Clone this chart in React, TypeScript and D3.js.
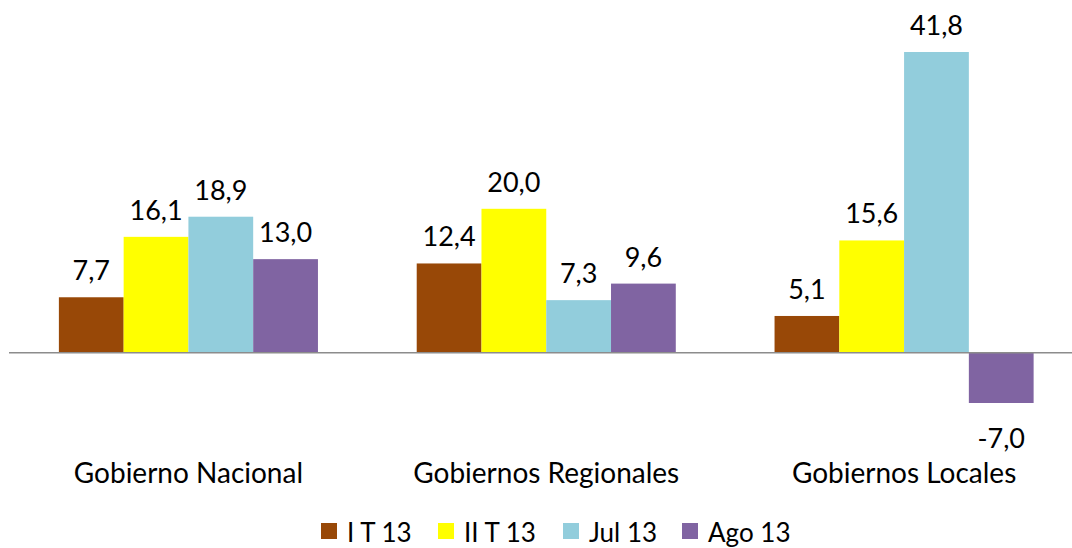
import React from 'react';
import * as d3 from 'd3';

const categories = ['Gobierno Nacional', 'Gobiernos Regionales', 'Gobiernos Locales'];
const seriesNames = ['I T 13', 'II T 13', 'Jul 13', 'Ago 13'];
const seriesColors = ['#984807', '#FFFF00', '#92CDDC', '#8064A2'];
const iT13 = [7.7, 12.4, 5.1];
const iiT13 = [16.1, 20.0, 15.6];
const jul13 = [18.9, 7.3, 41.8];
const ago13 = [13.0, 9.6, -7.0];

const values = [iT13, iiT13, jul13, ago13];

const W = 1072;
const H = 548;
const font = 'Lato, Carlito, Calibri, sans-serif';

const fmt = (v: number) => v.toFixed(1).replace('.', ',');

export default function App() {
  const x0 = d3.scaleBand<string>()
    .domain(categories)
    .range([9.5, 1083])
    .paddingInner(0.276)
    .paddingOuter(0.138);

  const x1 = d3.scaleBand<string>()
    .domain(seriesNames)
    .range([0, x0.bandwidth()]);

  const y = d3.scaleLinear()
    .domain([-7, 41.8])
    .range([403, 52]);

  const legendX = [321, 438, 563, 682];

  return (
    <svg width={W} height={H} style={{ position: 'absolute', left: 0, top: 0, background: '#fff' }}>
      {seriesNames.map((s, si) => (
        <g key={s} fill={seriesColors[si]}>
          {categories.map((c, ci) => {
            const v = values[si][ci];
            const bx = (x0(c) as number) + (x1(s) as number);
            const top = y(Math.max(0, v));
            const h = Math.abs(y(v) - y(0));
            return (
              <rect key={c} x={bx} y={top} width={x1.bandwidth()} height={h} />
            );
          })}
        </g>
      ))}
      <line x1={9} x2={W} y1={y(0)} y2={y(0)} stroke="#8c8c8c" strokeWidth={1.5} />
      {seriesNames.map((s, si) =>
        categories.map((c, ci) => {
          const v = values[si][ci];
          const cx = (x0(c) as number) + (x1(s) as number) + x1.bandwidth() / 2;
          const ty = v >= 0 ? y(v) - 17 : y(v) + 45;
          return (
            <text key={s + c} x={cx} y={ty} textAnchor="middle" fontFamily={font} fontSize={27} fill="#000">
              {fmt(v)}
            </text>
          );
        })
      )}
      {categories.map(c => (
        <text key={c} x={(x0(c) as number) + x0.bandwidth() / 2} y={483} textAnchor="middle" fontFamily={font} fontSize={28} fill="#000">
          {c}
        </text>
      ))}
      {seriesNames.map((s, si) => (
        <g key={s}>
          <rect x={legendX[si]} y={523} width={16} height={16} fill={seriesColors[si]} />
          <text x={legendX[si] + 26} y={542} fontFamily={font} fontSize={26} fill="#000">{s}</text>
        </g>
      ))}
    </svg>
  );
}
